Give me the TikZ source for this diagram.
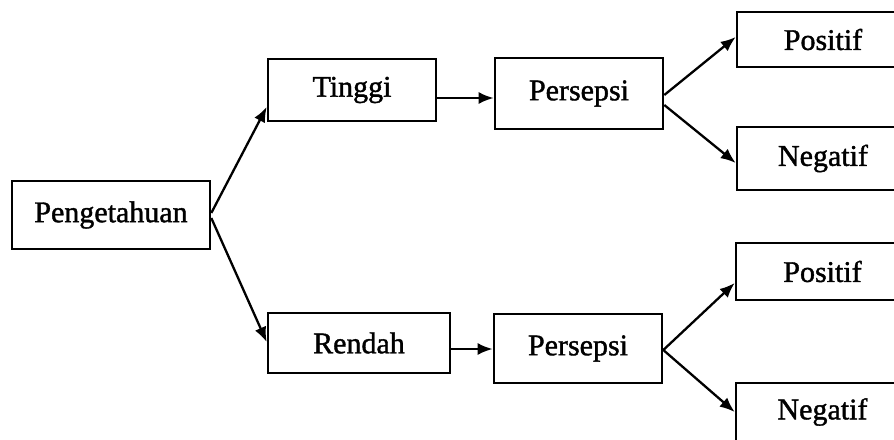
\documentclass[tikz,border=0pt]{standalone}
\usepackage{fontspec}
\setmainfont{Liberation Serif}[FakeBold=1.3]
\usetikzlibrary{arrows.meta}
\begin{document}
\begin{tikzpicture}[x=1pt,y=-1pt,
  box/.style={draw=black,line width=2.6pt,rectangle,inner sep=0pt,
    font=\fontsize{30}{36}\selectfont,text=black},
  link/.style={line width=2.3pt,-{Latex[length=15pt,width=12pt]}}]
\clip (0,0) rectangle (894,439);
\fill[white] (0,0) rectangle (894,439);

% level 0
\node[box,minimum width=198pt,minimum height=68pt] (pen) at (111,215) {Pengetahuan};
% level 1
\node[box,minimum width=168pt,minimum height=62pt] (tinggi) at (352,90) {Tinggi};
\node[box,minimum width=182pt,minimum height=60pt] (rendah) at (359,343) {Rendah};
% level 2
\node[box,minimum width=168pt,minimum height=71pt] (pa) at (579,93.5) {Persepsi};
\node[box,minimum width=168pt,minimum height=69pt] (pb) at (578,348.5) {Persepsi};
% level 3 (boxes run past the right edge)
\node[box,minimum width=172pt,minimum height=55pt] (posa) at (823,39.5) {Positif};
\node[box,minimum width=172pt,minimum height=63pt] (nega) at (823,158.5) {Negatif};
\node[box,minimum width=173pt,minimum height=57pt] (posb) at (822.5,271.5) {Positif};
\node[box,minimum width=173pt,minimum height=58pt] (negb) at (822.5,412) {Negatif};

% connectors
\draw[link] ([yshift=2pt]pen.east) -- ([yshift=-17pt]tinggi.west);
\draw[link] ([yshift=-3pt]pen.east) -- ([yshift=1pt]rendah.west);
\draw[link] ([yshift=-8pt]tinggi.east) -- ([yshift=-4.5pt]pa.west);
\draw[link] ([yshift=-6pt]rendah.east) -- ([yshift=-0.5pt]pb.west);
\draw[link] ([yshift=-1.5pt]pa.east) -- ([yshift=2.5pt]posa.west);
\draw[link] ([yshift=-11.5pt]pa.east) -- ([yshift=-4.5pt]nega.west);
\draw[link] ([yshift=-1.5pt]pb.east) -- ([yshift=-11.5pt]posb.west);
\draw[link] ([yshift=-1.5pt]pb.east) -- (negb.west);
\end{tikzpicture}
\end{document}
